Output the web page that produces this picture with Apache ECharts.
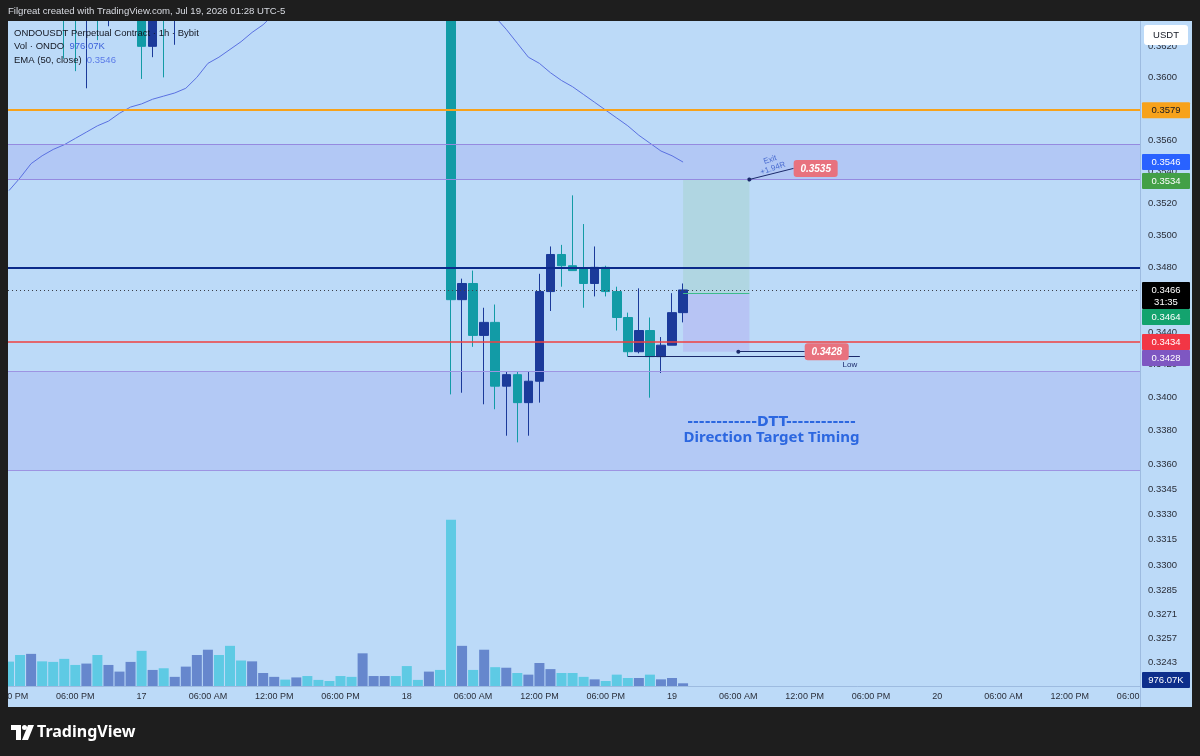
<!DOCTYPE html>
<html>
<head>
<meta charset="utf-8">
<title>ONDOUSDT Perpetual Contract 1h</title>
<script src="https://cdn.jsdelivr.net/npm/echarts@6.0.0/dist/echarts.min.js"></script>
<style>
  html, body { margin: 0; padding: 0; background: #1e1e1e; }
  #chart { width: 1200px; height: 756px; }
</style>
</head>
<body>
<div id="chart"></div>
<script>
// hour offsets from Jul 17 00:00 (UTC-5), one candle per hour
const hours = [-12, -11, -10, -9, -8, -7, -6, -5, -4, -3, -2, -1,
  0, 1, 2, 3, 4, 5, 6, 7, 8, 9, 10, 11, 12, 13, 14, 15, 16, 17, 18, 19, 20, 21, 22, 23,
  24, 25, 26, 27, 28, 29, 30, 31, 32, 33, 34, 35, 36, 37, 38, 39, 40, 41, 42, 43, 44, 45, 46, 47,
  48, 49];

const opens = [0.3668, 0.3655, 0.3646, 0.3660, 0.3652, 0.3645, 0.3640, 0.3638, 0.3652, 0.3644, 0.3658, 0.3670,
  0.3678, 0.3620, 0.3650, 0.3641, 0.3662, 0.3680, 0.3702, 0.3716, 0.3705, 0.3696, 0.3690, 0.3701,
  0.3712, 0.3720, 0.3711, 0.3718, 0.3712, 0.3707, 0.3703, 0.3699, 0.3695, 0.3702, 0.3708, 0.3714,
  0.3710, 0.3706, 0.3703, 0.3709, 0.3705, 0.3460, 0.3470, 0.3438, 0.3446, 0.3407, 0.3414, 0.3397,
  0.3410, 0.3465, 0.3488, 0.3481, 0.3479, 0.3470, 0.3480, 0.3465, 0.3449, 0.3428, 0.3441, 0.3425,
  0.3432, 0.3452];
const closes = [0.3655, 0.3646, 0.3660, 0.3652, 0.3645, 0.3640, 0.3638, 0.3652, 0.3644, 0.3658, 0.3670, 0.3678,
  0.3620, 0.3650, 0.3641, 0.3662, 0.3680, 0.3702, 0.3716, 0.3705, 0.3696, 0.3690, 0.3701, 0.3712,
  0.3720, 0.3711, 0.3718, 0.3712, 0.3707, 0.3703, 0.3699, 0.3695, 0.3702, 0.3708, 0.3714, 0.3710,
  0.3706, 0.3703, 0.3709, 0.3705, 0.3460, 0.3470, 0.3438, 0.3446, 0.3407, 0.3414, 0.3397, 0.3410,
  0.3465, 0.3488, 0.3481, 0.3478, 0.3470, 0.3480, 0.3465, 0.3449, 0.3428, 0.3441, 0.3425, 0.3432,
  0.3452, 0.3466];
const lows = [0.3648, 0.3640, 0.3641, 0.3645, 0.3639, 0.3612, 0.3604, 0.3593, 0.3624, 0.3633, 0.3650, 0.3662,
  0.3599, 0.3613, 0.3600, 0.3621, 0.3655, 0.3674, 0.3695, 0.3698, 0.3689, 0.3684, 0.3686, 0.3697,
  0.3708, 0.3706, 0.3707, 0.3706, 0.3702, 0.3698, 0.3694, 0.3690, 0.3691, 0.3699, 0.3704, 0.3706,
  0.3702, 0.3699, 0.3700, 0.3701, 0.3402, 0.3403, 0.3431, 0.3396, 0.3393, 0.3377, 0.3373, 0.3377,
  0.3397, 0.3453, 0.3468, 0.3478, 0.3455, 0.3462, 0.3462, 0.3441, 0.3425, 0.3427, 0.3400, 0.3415,
  0.3432, 0.3446];
const highs = [0.3675, 0.3662, 0.3668, 0.3666, 0.3657, 0.3650, 0.3646, 0.3658, 0.3660, 0.3664, 0.3676, 0.3685,
  0.3682, 0.3656, 0.3655, 0.3668, 0.3688, 0.3710, 0.3722, 0.3720, 0.3710, 0.3700, 0.3706, 0.3716,
  0.3725, 0.3724, 0.3722, 0.3721, 0.3715, 0.3710, 0.3706, 0.3702, 0.3706, 0.3711, 0.3717, 0.3716,
  0.3712, 0.3709, 0.3712, 0.3711, 0.3712, 0.3473, 0.3478, 0.3455, 0.3457, 0.3416, 0.3416, 0.3416,
  0.3476, 0.3493, 0.3494, 0.3525, 0.3507, 0.3493, 0.3481, 0.3468, 0.3452, 0.3467, 0.3449, 0.3437,
  0.3464, 0.3470];

// volume in thousands of ONDO
const volumes = [8800, 11200, 11600, 8900, 8700, 9800, 7600, 8100, 11200, 7600, 5200, 8700,
  12700, 5800, 6400, 3300, 7000, 11200, 13100, 11200, 14500, 9200, 8900, 4700,
  3300, 2300, 3100, 3600, 2200, 1800, 3600, 3300, 11800, 3600, 3600, 3600,
  7200, 2200, 5200, 5800, 60000, 14500, 5800, 13100, 6800, 6600, 4700, 4100,
  8300, 6100, 4700, 4700, 3300, 2400, 1800, 4100, 2900, 2900, 4100, 2400,
  2900, 976.07];

// EMA (50, close)
const ema50 = [0.3528, 0.3536, 0.3545, 0.3550, 0.3554, 0.3557, 0.3561, 0.3565, 0.3569, 0.3572, 0.3577, 0.3581,
  0.3583, 0.3586, 0.3588, 0.3590, 0.3593, 0.3600, 0.3609, 0.3613, 0.3618, 0.3623, 0.3629, 0.3634,
  0.3641, 0.3647, 0.3652, 0.3657, 0.3661, 0.3665, 0.3668, 0.3671, 0.3674, 0.3676, 0.3678, 0.3680,
  0.3681, 0.3682, 0.3683, 0.3684, 0.3675, 0.3666, 0.3657, 0.3648, 0.3639, 0.3631, 0.3622, 0.3613,
  0.3609, 0.3603, 0.3598, 0.3594, 0.3589, 0.3584, 0.3579, 0.3574, 0.3569, 0.3563, 0.3558, 0.3553,
  0.3550, 0.3546];

const timeTicks = [-12, -6, 0, 6, 12, 18, 24, 30, 36, 42, 48, 54, 60, 66, 72, 78, 84, 90];
const timeLabels = ['12:00 PM', '06:00 PM', '17', '06:00 AM', '12:00 PM', '06:00 PM', '18', '06:00 AM',
  '12:00 PM', '06:00 PM', '19', '06:00 AM', '12:00 PM', '06:00 PM', '20', '06:00 AM', '12:00 PM', '06:00 PM'];

const priceTicks = [0.3620, 0.3600, 0.3580, 0.3560, 0.3540, 0.3520, 0.3500, 0.3480, 0.3460, 0.3440,
  0.3420, 0.3400, 0.3380, 0.3360, 0.3345, 0.3330, 0.3315, 0.3300, 0.3285, 0.3271, 0.3257, 0.3243];

// horizontal levels drawn on the chart
const resistance = 0.3579;
const keyLevel = 0.3480;
const lastPrice = 0.3466;
const redLevel = 0.3434;
const upperZone = [0.3557, 0.3535];
const lowerZone = [0.3416, 0.3356];

// long position tool
const entry = 0.3464;
const target = 0.3535;
const stop = 0.3428;
const positionSpan = [49, 55];
const lowLine = { price: 0.3425, from: 44, to: 65 };

// labels on the price scale
const tagValues = [0.3579, 0.3546, 0.3534, 0.3466, 0.3464, 0.3434, 0.3428];
const tagColors = ['#f7a21b', '#2962ff', '#43a047', '#000000', '#13a36e', '#f23645', '#7e57c2'];
const tagText = ['#131722', '#ffffff', '#ffffff', '#ffffff', '#ffffff', '#ffffff', '#ffffff'];
const countdown = '31:35';

const BG = '#bcdaf8';
const FRAME = '#1e1e1e';
const UP = '#1b3a9a';
const DOWN = '#129ba6';
const X_MIN = -12.09, X_MAX = 90.35;

const chart = echarts.init(document.getElementById('chart'));

const candleData = hours.map((h, i) => [h, opens[i], closes[i], lows[i], highs[i]]);
const volData = hours.map((h, i) => ({
  value: [h, volumes[i]],
  itemStyle: { color: closes[i] >= opens[i] ? '#6687cd' : '#5ecae4' }
}));
const emaData = hours.map((h, i) => [h, ema50[i]]);

// full-width level line
const hLine = (v, color, width, type) => [
  { coord: [X_MIN, v], lineStyle: { color: color, width: width, type: type || 'solid' } },
  { coord: [X_MAX, v] }
];

chart.setOption({
  animation: false,
  grid: [
    { left: 8, top: 21, width: 1132, height: 665, outerBoundsMode: 'none', containLabel: false },
    { left: 8, top: 470, width: 1132, height: 216, outerBoundsMode: 'none', containLabel: false }
  ],
  xAxis: [
    {
      type: 'value', gridIndex: 0, min: X_MIN, max: X_MAX,
      axisLine: { show: true, lineStyle: { color: '#9dbbe0', width: 1 } },
      axisTick: { show: false },
      splitLine: { show: false },
      axisLabel: {
        customValues: timeTicks,
        margin: 6,
        color: '#2a2e39',
        fontSize: 9,
        fontFamily: 'Liberation Sans, Arial, sans-serif',
        formatter: v => timeLabels[timeTicks.indexOf(Math.round(v))]
      }
    },
    { type: 'value', gridIndex: 1, min: X_MIN, max: X_MAX, show: false }
  ],
  yAxis: [
    { type: 'log', gridIndex: 0, min: 0.32295, max: 0.36364, show: false, splitLine: { show: false } },
    { type: 'value', gridIndex: 1, min: 0, max: 78000, show: false, splitLine: { show: false } }
  ],
  series: [
    {
      type: 'bar', xAxisIndex: 1, yAxisIndex: 1,
      data: volData, barWidth: 10, encode: { x: 0, y: 1 }
    },
    {
      type: 'candlestick', xAxisIndex: 0, yAxisIndex: 0,
      data: candleData, encode: { x: 0, y: [1, 2, 3, 4] },
      barWidth: 9,
      itemStyle: { color: UP, color0: DOWN, borderColor: UP, borderColor0: DOWN, borderWidth: 1 },
      markArea: {
        silent: true,
        data: [
          [{ yAxis: upperZone[0], itemStyle: { color: 'rgba(120,95,225,0.14)' } }, { yAxis: upperZone[1] }],
          [{ yAxis: lowerZone[0], itemStyle: { color: 'rgba(120,95,225,0.13)' } }, { yAxis: lowerZone[1] }],
          [{ coord: [positionSpan[0], target], itemStyle: { color: 'rgba(150,205,175,0.3)' } },
           { coord: [positionSpan[1], entry] }],
          [{ coord: [positionSpan[0], entry], itemStyle: { color: 'rgba(175,150,235,0.32)' } },
           { coord: [positionSpan[1], stop] }]
        ]
      },
      markLine: {
        silent: true,
        symbol: ['none', 'none'],
        label: { show: false },
        lineStyle: { type: 'solid' },
        data: [
          hLine(upperZone[0], '#958ae0', 1),
          hLine(upperZone[1], '#958ae0', 1),
          hLine(lowerZone[0], '#9d94e2', 1),
          hLine(lowerZone[1], '#9d94e2', 1),
          hLine(resistance, '#f7a21b', 2),
          hLine(keyLevel, '#0c2a8a', 2),
          hLine(redLevel, '#ef4040', 1.5),
          hLine(lastPrice, '#3a3e49', 1, [1, 3]),
          [{ coord: [positionSpan[0], entry], lineStyle: { color: '#3dbb8c', width: 1, type: 'solid' } },
           { coord: [positionSpan[1], entry] }],
          [{ coord: [lowLine.from, lowLine.price], lineStyle: { color: '#1b2a6b', width: 1, type: 'solid' } },
           { coord: [lowLine.to, lowLine.price] }],
          [{ coord: [positionSpan[1], target], symbol: 'circle', symbolSize: 4,
             lineStyle: { color: '#1b2a6b', width: 1, type: 'solid' }, itemStyle: { color: '#1b2a6b' } },
           { coord: [59, 0.3542], symbol: 'none' }],
          [{ coord: [54, stop], symbol: 'circle', symbolSize: 4,
             lineStyle: { color: '#1b2a6b', width: 1, type: 'solid' }, itemStyle: { color: '#1b2a6b' } },
           { coord: [60, stop], symbol: 'none' }]
        ]
      }
    },
    {
      type: 'line', xAxisIndex: 0, yAxisIndex: 0,
      data: emaData, showSymbol: false, symbol: 'none',
      lineStyle: { color: '#5a70e0', width: 1 }
    }
  ]
});

// ---- overlays placed through the chart's own scales ----
const FONT = 'Liberation Sans, Arial, sans-serif';
const g = [];
const txt = (x, y, text, opts) => ({
  type: 'text', x: x, y: y, z: 60,
  style: Object.assign({
    text: text, fill: '#2a2e39', fontSize: 9.5, fontFamily: FONT,
    align: 'left', textAlign: 'left', verticalAlign: 'middle', textVerticalAlign: 'middle'
  }, opts || {})
});

// light panel behind everything
g.push({ type: 'rect', z: -10, shape: { x: 8, y: 21, width: 1184, height: 686 }, style: { fill: BG } });
// price scale column, frame covers (candles poking out of the plot)
g.push({ type: 'rect', z: 50, shape: { x: 1141, y: 21, width: 51, height: 686 }, style: { fill: BG } });
g.push({ type: 'rect', z: 50, shape: { x: 0, y: 21, width: 8, height: 686 }, style: { fill: FRAME } });
g.push({ type: 'rect', z: 50, shape: { x: 0, y: 0, width: 1200, height: 21 }, style: { fill: FRAME } });
g.push({ type: 'line', z: 51, shape: { x1: 1140.5, y1: 21, x2: 1140.5, y2: 707 }, style: { stroke: '#9dbbe0', lineWidth: 1 } });

// price scale labels
priceTicks.forEach(v => {
  const y = chart.convertToPixel({ yAxisIndex: 0 }, v);
  g.push(txt(1148, y, v.toFixed(4)));
});

// tags on the price scale, pushed down when they collide
const tags = tagValues.map((v, i) => ({
  v: v, bg: tagColors[i], fg: tagText[i], sub: v === lastPrice ? countdown : null,
  y: chart.convertToPixel({ yAxisIndex: 0 }, v)
})).sort((a, b) => a.y - b.y);
let prevBottom = -1e9;
tags.forEach(t => {
  const h = t.sub ? 27 : 16;
  let top = t.y - 8;
  if (top < prevBottom) top = prevBottom;
  prevBottom = top + h;
  g.push({ type: 'rect', z: 70, shape: { x: 1142, y: top, width: 48, height: h, r: 1 }, style: { fill: t.bg } });
  g.push(Object.assign(txt(1166, top + 8.5, t.v.toFixed(4), { fill: t.fg, align: 'center', textAlign: 'center' }), { z: 71 }));
  if (t.sub) g.push(Object.assign(txt(1166, top + 20, t.sub, { fill: t.fg, align: 'center', textAlign: 'center' }), { z: 71 }));
});

// volume tag
const lastVol = volumes[volumes.length - 1];
let vy = chart.convertToPixel({ yAxisIndex: 1 }, lastVol);
vy = Math.min(vy, 680);
g.push({ type: 'rect', z: 70, shape: { x: 1142, y: vy - 8, width: 48, height: 16, r: 1 }, style: { fill: '#0d2e8b' } });
g.push(Object.assign(txt(1166, vy + 0.5, lastVol.toFixed(2) + 'K', { fill: '#ffffff', align: 'center', textAlign: 'center' }), { z: 71 }));

// currency box
g.push({ type: 'rect', z: 72, shape: { x: 1144, y: 25, width: 44, height: 20, r: 3 }, style: { fill: '#ffffff' } });
g.push(Object.assign(txt(1166, 35.5, 'USDT', { fill: '#131722', align: 'center', textAlign: 'center' }), { z: 73 }));

// snapshot header
g.push(txt(8, 11, 'Filgreat created with TradingView.com, Jul 19, 2026 01:28 UTC-5', { fill: '#d8dbe2', fontSize: 9.6 }));

// legend in the chart
g.push(txt(14, 33, 'ONDOUSDT Perpetual Contract · 1h · Bybit', { fill: '#131722' }));
g.push(txt(14, 46.5, '{a|Vol · ONDO}{b|  976.07K}', {
  rich: { a: { fill: '#131722', color: '#131722', fontSize: 9.5, fontFamily: FONT },
          b: { fill: '#3a5fd9', color: '#3a5fd9', fontSize: 9.5, fontFamily: FONT } }
}));
g.push(txt(14, 60, '{a|EMA (50, close)}{b|  0.3546}', {
  rich: { a: { fill: '#131722', color: '#131722', fontSize: 9.5, fontFamily: FONT },
          b: { fill: '#5b7be8', color: '#5b7be8', fontSize: 9.5, fontFamily: FONT } }
}));

// annotation tags in the plot
const px = (h, p) => chart.convertToPixel({ gridIndex: 0 }, [h, p]);
[[61, 0.3542, '0.3535'], [62, stop, '0.3428']].forEach(a => {
  const p = px(a[0], a[1]);
  g.push({ type: 'rect', z: 40, shape: { x: p[0] - 22, y: p[1] - 8.5, width: 44, height: 17, r: 3 }, style: { fill: '#e8727e' } });
  g.push(Object.assign(txt(p[0], p[1] + 0.5, a[2], {
    fill: '#ffffff', fontSize: 10, fontWeight: 'bold', fontStyle: 'italic', align: 'center', textAlign: 'center'
  }), { z: 41 }));
});
const exitP = px(57, 0.35447);
g.push(Object.assign(txt(exitP[0], exitP[1], 'Exit\n+1.94R', {
  fill: '#4a6cd0', fontSize: 8, align: 'center', textAlign: 'center', lineHeight: 9
}), { rotation: 0.33, z: 41 }));
const lowP = px(64.1, 0.3420);
g.push(txt(lowP[0], lowP[1], 'Low', { fill: '#1b2a6b', fontSize: 8, align: 'center', textAlign: 'center' }));

// DTT note
const d1 = px(57, 0.33852), d2 = px(57, 0.33756);
g.push(txt(d1[0], d1[1], '------------DTT------------', {
  fill: '#2c67e0', fontSize: 14, fontWeight: 'bold', fontFamily: 'DejaVu Sans, sans-serif', align: 'center', textAlign: 'center'
}));
g.push(txt(d2[0], d2[1], 'Direction Target Timing', {
  fill: '#2c67e0', fontSize: 15, fontWeight: 'bold', fontFamily: 'Noto Sans, sans-serif', align: 'center', textAlign: 'center'
}));

// TradingView footer mark
g.push({ type: 'polygon', z: 60, shape: { points: [[11, 725], [21, 725], [21, 740], [16, 740], [16, 730], [11, 730]] }, style: { fill: '#ffffff' } });
g.push({ type: 'circle', z: 60, shape: { cx: 24.5, cy: 727.5, r: 2.5 }, style: { fill: '#ffffff' } });
g.push({ type: 'polygon', z: 60, shape: { points: [[28, 725], [34, 725], [28, 740], [22, 740]] }, style: { fill: '#ffffff' } });
g.push(txt(37, 732, 'TradingView', { fill: '#ffffff', fontSize: 16, fontWeight: 'bold', fontFamily: 'Noto Sans, sans-serif' }));

chart.setOption({ graphic: { elements: g } });
</script>
</body>
</html>
